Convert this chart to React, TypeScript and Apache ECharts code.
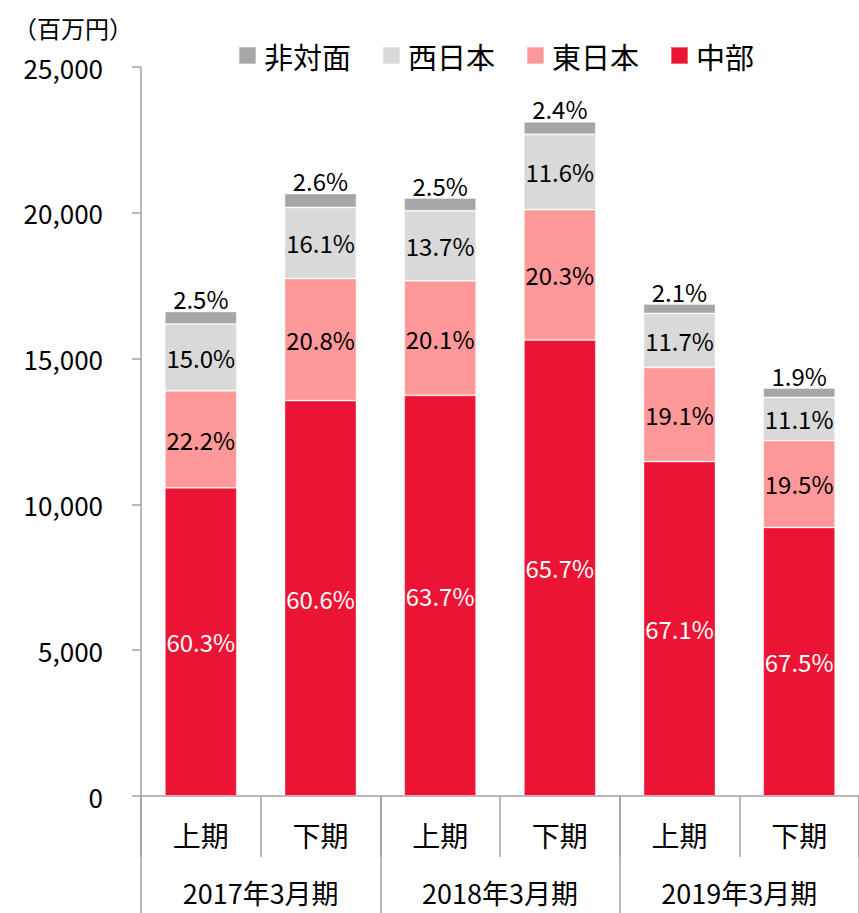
import React, { useEffect, useRef } from "react";
import * as echarts from "echarts";

const categories = ["上期", "下期", "上期", "下期", "上期", "下期"];
const years = ["2017年3月期", "2018年3月期", "2019年3月期"];
const seriesNames = ["中部", "東日本", "西日本", "非対面"];
const legendOrder = ["非対面", "西日本", "東日本", "中部"];

const chubu = [10570, 13560, 13740, 15640, 11470, 9210];
const higashi = [3330, 4190, 3930, 4470, 3230, 2980];
const nishi = [2285, 2430, 2400, 2580, 1850, 1480];
const hitaimen = [430, 480, 435, 430, 320, 320];

const chubuPct = ["60.3%", "60.6%", "63.7%", "65.7%", "67.1%", "67.5%"];
const higashiPct = ["22.2%", "20.8%", "20.1%", "20.3%", "19.1%", "19.5%"];
const nishiPct = ["15.0%", "16.1%", "13.7%", "11.6%", "11.7%", "11.1%"];
const hitaimenPct = ["2.5%", "2.6%", "2.5%", "2.4%", "2.1%", "1.9%"];

const colors = ["#EC1434", "#FF9999", "#D9D9D9", "#A6A6A6"];
const FONT = "'Noto Sans CJK JP', 'Noto Sans', sans-serif";
const AXIS_GRAY = "#A0A0A0";

export default function App() {
  const ref = useRef<HTMLDivElement>(null);
  useEffect(() => {
    if (!ref.current) return;
    const chart = echarts.init(ref.current, null, { renderer: "svg" });
    const values = [chubu, higashi, nishi, hitaimen];
    const pcts = [chubuPct, higashiPct, nishiPct, hitaimenPct];
    const series = seriesNames.map((name, i) => ({
      name,
      type: "bar",
      stack: "total",
      barWidth: 72,
      data: values[i],
      itemStyle: { color: colors[i], borderColor: "rgba(255,255,255,0.35)", borderWidth: 1 },
      label: {
        show: true,
        position: i === 3 ? "top" : "inside",
        distance: 1,
        color: i === 0 ? "#FFFFFF" : "#000000",
        fontSize: 24,
        fontFamily: FONT,
        formatter: (p: any) => pcts[i][p.dataIndex],
      },
    }));
    chart.setOption({
      animation: false,
      textStyle: { fontFamily: FONT },
      graphic: [
        {
          type: "text",
          left: 13,
          top: 15,
          style: { text: "（百万円）", fontSize: 24, fontFamily: FONT, fill: "#000" },
        },
      ],
      legend: {
        data: legendOrder,
        left: 233,
        top: 36,
        icon: "rect",
        itemWidth: 17,
        itemHeight: 17,
        itemGap: 31,
        textStyle: { fontSize: 29, fontFamily: FONT, color: "#000", padding: [0, 0, 0, 3] },
      },
      grid: { left: 141, right: -13, top: 67, bottom: 117, containLabel: false },
      xAxis: [
        {
          type: "category",
          data: categories,
          position: "bottom",
          axisLine: { show: true, lineStyle: { color: AXIS_GRAY, width: 1.5 } },
          axisTick: { show: true, length: 61, alignWithLabel: false, interval: 0, lineStyle: { color: AXIS_GRAY, width: 1.5 } },
          axisLabel: { margin: 25, fontSize: 28, color: "#000", fontFamily: FONT, interval: 0 },
        },
        {
          type: "category",
          data: years,
          position: "bottom",
          offset: 0,
          axisLine: { show: false },
          axisTick: { show: true, length: 117, alignWithLabel: false, interval: 0, lineStyle: { color: AXIS_GRAY, width: 1.5 } },
          axisLabel: { margin: 83, fontSize: 27, color: "#000", fontFamily: FONT, interval: 0 },
        },
      ],
      yAxis: {
        type: "value",
        min: 0,
        max: 25000,
        interval: 5000,
        axisLine: { show: true, lineStyle: { color: AXIS_GRAY, width: 1.5 } },
        axisTick: { show: true, inside: false, length: 9, lineStyle: { color: AXIS_GRAY, width: 1.5 } },
        splitLine: { show: false },
        axisLabel: {
          margin: 38,
          fontSize: 26,
          color: "#000",
          fontFamily: FONT,
          formatter: (v: number) => v.toLocaleString("en-US"),
        },
      },
      series,
    });
    return () => chart.dispose();
  }, []);
  return (
    <div
      ref={ref}
      style={{ position: "fixed", left: 0, top: 0, width: 859, height: 913, background: "#fff" }}
    />
  );
}
